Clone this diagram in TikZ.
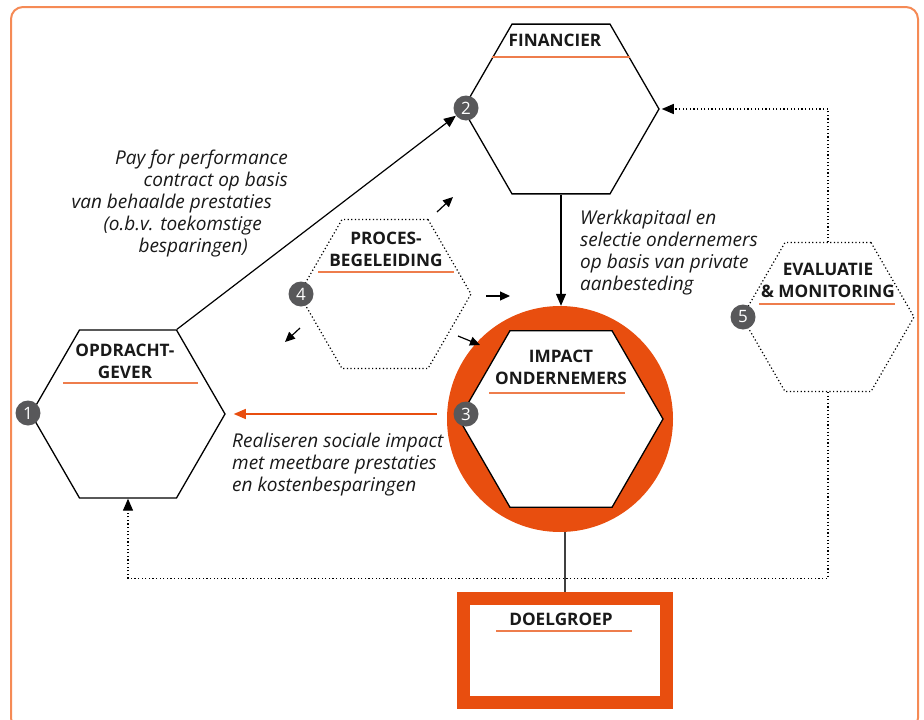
\documentclass[tikz,border=0pt]{standalone}
\usepackage{fontspec}
\setmainfont{Open Sans}
\usetikzlibrary{shapes.geometric,arrows.meta}

\definecolor{oranje}{HTML}{E84E0F}
\definecolor{kader}{HTML}{F58A55}
\definecolor{lijn}{HTML}{EE7D4C}
\definecolor{badgegrijs}{HTML}{58585A}

\tikzset{
  hexa/.style={regular polygon, regular polygon sides=6, draw, line width=1.3pt, inner sep=0pt, fill=white},
  puntjes/.style={dash pattern=on 1.2pt off 2.4pt},
  titel/.style={font=\fontsize{17.2}{22}\selectfont\bfseries, align=center, text=black!90},
  nummer/.style={circle, fill=badgegrijs, text=white, minimum size=25pt, inner sep=0pt, font=\fontsize{17}{17}\selectfont},
  onderlijn/.style={lijn, line width=1.3pt},
  uitleg/.style={font=\fontsize{19}{22}\selectfont\itshape, inner sep=0pt, text=black!90},
  pijl/.style={-{Triangle[length=12pt,width=10pt]}, line width=1.2pt},
  kleinpijl/.style={-{Triangle[length=10pt,width=9pt]}, line width=1.2pt},
}

\begin{document}
\begin{tikzpicture}[x=1pt,y=-1pt]
  \useasboundingbox (0,0) rectangle (924,720);
  \clip (0,0) rectangle (924,720);

  % kader rondom
  \draw[kader, line width=2pt, rounded corners=12pt] (11,7) rectangle (918,730);

  % Financier
  \node[hexa, minimum size=196pt] (fin) at (561,109) {};
  \node[titel] (fintitel) at (555,40) {FINANCIER};
  \draw[onderlijn] (492,57) -- (630,57);

  % Opdrachtgever
  \node[hexa, minimum size=194pt] (opd) at (128,414) {};
  \node[titel] (opdtitel) at (125,361) {OPDRACHT-\\GEVER};
  \draw[onderlijn] (63,383) -- (198,383);

  % Procesbegeleiding
  \node[hexa, puntjes, line width=1.2pt, minimum size=172pt] (proc) at (385,294) {};
  \node[titel] (proctitel) at (386,249) {PROCES-\\BEGELEIDING};
  \draw[onderlijn] (318,272) -- (454,272);

  % Impact ondernemers
  \node[circle, fill=oranje, minimum size=226pt, inner sep=0pt] (impc) at (560,419) {};
  \node[hexa, minimum size=204pt] (imp) at (561,419) {};
  \node[titel] (imptitel) at (561,367) {IMPACT\\ONDERNEMERS};
  \draw[onderlijn] (489,393) -- (625,393);

  % Evaluatie & monitoring
  \node[hexa, puntjes, line width=1.2pt, minimum size=172pt] (eval) at (828,317) {};
  \node[titel] (evaltitel) at (828,280) {EVALUATIE\\\& MONITORING};
  \draw[onderlijn] (759,304) -- (895,304);

  % Doelgroep
  \node[draw=oranje, line width=13pt, minimum width=203pt, minimum height=104pt, inner sep=0pt] (doel) at (565,650.5) {};
  \node[titel] (doeltitel) at (561,619) {DOELGROEP};
  \draw[onderlijn] (496,631) -- (632,631);

  % nummers
  \node[nummer] (b1) at (28,413) {1};
  \node[nummer] (b2) at (466,108) {2};
  \node[nummer] (b3) at (466,414) {3};
  \node[nummer] (b4) at (301,294) {4};
  \node[nummer] (b5) at (743,317) {5};

  % pijlen
  \draw[pijl] (opd.60) -- (b2);
  \draw[pijl] (fin.south) -- (fin.south |- impc.north);
  \draw[pijl, oranje] ([xshift=-10pt]impc.west |- b3) -- ([xshift=8pt]opd.east |- b3);
  \draw[line width=2pt, black!75] (doel.north |- impc.south) -- (doel.north);
  \draw[pijl, puntjes] (eval.north) |- ([xshift=2pt]fin.east);
  \draw[pijl, puntjes] (eval.south) -- ++(0,186) -| (opd.south);

  % kleine pijlen rond procesbegeleiding
  \draw[kleinpijl] (437,212) -- (453,197);
  \draw[kleinpijl] (486,296) -- (510,296);
  \draw[kleinpijl] (300,328) -- (285,342);
  \draw[kleinpijl] (458,336) -- (480,345);

  % teksten
  \node[uitleg, align=right, anchor=north east] (paytekst) at (288,150)
    {Pay for performance\\contract op basis\\van behaalde prestaties\rule{16pt}{0pt}\\(o.b.v. toekomstige\rule{26pt}{0pt}\\besparingen)\rule{40pt}{0pt}};
  \node[uitleg, align=left, anchor=north west] (werktekst) at (580,210)
    {Werkkapitaal en\\selectie ondernemers\\op basis van private\\aanbesteding};
  \node[uitleg, align=left, anchor=north west] (realtekst) at (232,433)
    {Realiseren sociale impact\\met meetbare prestaties\\en kostenbesparingen};
\end{tikzpicture}
\end{document}
